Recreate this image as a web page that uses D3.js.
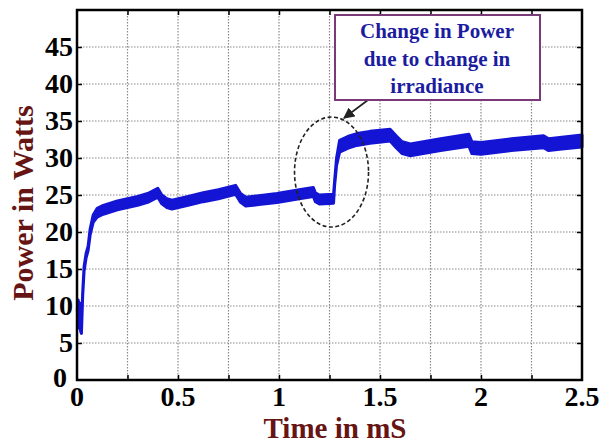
<!DOCTYPE html>
<html>
<head>
<meta charset="utf-8">
<script src="https://cdn.jsdelivr.net/npm/d3@7"></script>
<style>
  body { margin: 0; background: #fff; }
  svg text { font-family: "Liberation Serif", "Times New Roman", serif; font-weight: bold; }
</style>
</head>
<body>
<div id="chart"></div>
<script>
// power envelope (ripple band), time in mS
var time = [0.002,0.006,0.010,0.014,0.018,0.022,0.028,0.035,0.045,0.055,0.065,0.080,0.100,0.130,
            0.200,0.250,0.300,0.350,0.400,0.420,0.445,0.470,0.550,0.625,0.700,0.785,0.810,0.835,
            0.900,0.990,1.100,1.170,1.180,1.200,1.270,1.275,1.285,1.300,1.340,1.385,1.450,1.550,
            1.580,1.610,1.650,1.800,1.940,1.955,2.000,2.150,2.310,2.335,2.400,2.500]
var powerLow = [9.3,10.4,7.0,10.0,6.6,6.3,11.3,14.7,16.5,17.5,19.6,21.3,22.0,22.4,
                23.0,23.3,23.6,24.0,24.7,23.8,23.3,23.1,23.6,24.1,24.5,25.1,24.0,23.5,
                23.7,24.0,24.5,24.8,24.1,23.8,23.9,26.2,29.0,30.8,31.3,31.7,32.0,32.3,
                31.4,30.6,30.3,31.0,31.6,30.6,30.5,31.0,31.4,31.0,31.2,31.5]
var powerHigh = [9.7,10.8,7.4,10.4,7.0,6.7,11.7,15.3,17.1,18.1,20.4,22.3,23.2,23.6,
                 24.2,24.5,24.8,25.2,25.9,25.0,24.5,24.3,24.8,25.3,25.7,26.3,25.2,24.7,
                 24.9,25.2,25.7,26.0,25.3,25.0,25.1,26.8,30.0,32.4,32.9,33.3,33.6,33.9,
                 33.0,32.2,31.9,32.6,33.2,32.2,32.1,32.6,33.0,32.6,32.8,33.1]

// tick labels
var xTickLabels = [0, 0.5, 1, 1.5, 2, 2.5]
var yTickLabels = [0, 5, 10, 15, 20, 25, 30, 35, 40, 45]
var xGrid = [0.25, 0.5, 0.75, 1, 1.25, 1.5, 1.75, 2, 2.25]
var yGrid = [5, 10, 15, 20, 25, 30, 35, 40, 45]

// annotation
var noteLines = ["Change in Power", "due to change in", "irradiance"]
var noteCenter = { t: 1.26, p: 28.1 }

var width = 601, height = 445
var plot = { left: 77, right: 582, top: 10, bottom: 380 }

let svg = d3.select("#chart")
    .append("svg")
    .attr("width", width)
    .attr("height", height)

var x = d3.scaleLinear()
    .domain([0, 2.5])
    .range([plot.left, plot.right])
var y = d3.scaleLinear()
    .domain([0, 50])
    .range([plot.bottom, plot.top])

// dotted grid
svg.append("g")
    .selectAll("line")
    .data(xGrid)
    .enter().append("line")
        .attr("x1", d => x(d)).attr("x2", d => x(d))
        .attr("y1", plot.top).attr("y2", plot.bottom)
        .style("stroke", "#8a8a8a")
        .style("stroke-width", 1.2)
        .style("stroke-dasharray", "1.5,1.5")
svg.append("g")
    .selectAll("line")
    .data(yGrid)
    .enter().append("line")
        .attr("x1", plot.left).attr("x2", plot.right)
        .attr("y1", d => y(d)).attr("y2", d => y(d))
        .style("stroke", "#8a8a8a")
        .style("stroke-width", 1.2)
        .style("stroke-dasharray", "1.5,1.5")

// inward tick marks on all four sides
svg.append("g")
    .attr("transform", `translate(0,${plot.bottom})`)
    .call(d3.axisTop(x).tickValues(xGrid).tickSize(5).tickFormat(""))
svg.append("g")
    .attr("transform", `translate(0,${plot.top})`)
    .call(d3.axisBottom(x).tickValues(xGrid).tickSize(5).tickFormat(""))
svg.append("g")
    .attr("transform", `translate(${plot.left},0)`)
    .call(d3.axisRight(y).tickValues(yGrid).tickSize(5).tickFormat(""))
svg.append("g")
    .attr("transform", `translate(${plot.right},0)`)
    .call(d3.axisLeft(y).tickValues(yGrid).tickSize(5).tickFormat(""))
svg.selectAll(".domain").remove()
svg.selectAll(".tick line").style("stroke", "#000").style("stroke-width", 1.5)

// power band
var band = time.map((t, i) => ({ t: t, lo: powerLow[i], hi: powerHigh[i] }))
svg.append("path")
    .datum(band)
    .attr("d", d3.area()
        .x(d => x(d.t))
        .y0(d => y(d.lo))
        .y1(d => y(d.hi)))
    .style("fill", "#1414d4")
    .style("stroke", "#1414d4")
    .style("stroke-width", 3)
    .style("stroke-linejoin", "round")

// frame
svg.append("rect")
    .attr("x", plot.left)
    .attr("y", plot.top)
    .attr("width", plot.right - plot.left)
    .attr("height", plot.bottom - plot.top)
    .style("fill", "none")
    .style("stroke", "#000")
    .style("stroke-width", 2.5)

// tick labels (the two zeros share the corner, so the y one sits a bit left)
svg.append("g")
    .selectAll("text")
    .data(xTickLabels)
    .enter().append("text")
        .attr("x", d => x(d))
        .attr("y", plot.bottom + 26)
        .attr("text-anchor", "middle")
        .style("font-size", "28px")
        .text(d => d)
svg.append("g")
    .selectAll("text")
    .data(yTickLabels)
    .enter().append("text")
        .attr("x", d => d == 0 ? plot.left - 10 : plot.left - 4)
        .attr("y", d => d == 0 ? y(d) + 7 : y(d) + 9)
        .attr("text-anchor", "end")
        .style("font-size", "28px")
        .text(d => d)

// axis titles
svg.append("text")
    .attr("x", 335)
    .attr("y", 438)
    .attr("text-anchor", "middle")
    .style("font-size", "29px")
    .style("fill", "#661414")
    .text("Time in mS")
svg.append("text")
    .attr("transform", `translate(33,203) rotate(-90)`)
    .attr("text-anchor", "middle")
    .style("font-size", "30px")
    .style("fill", "#661414")
    .text("Power in Watts")

// dashed ellipse round the step
svg.append("ellipse")
    .attr("cx", x(noteCenter.t))
    .attr("cy", y(noteCenter.p))
    .attr("rx", 37)
    .attr("ry", 55)
    .style("fill", "none")
    .style("stroke", "#222")
    .style("stroke-width", 1.6)
    .style("stroke-dasharray", "4,2.5")

// arrow from box to ellipse
svg.append("defs").append("marker")
    .attr("id", "head")
    .attr("viewBox", "0 0 10 10")
    .attr("refX", 9).attr("refY", 5)
    .attr("markerWidth", 7).attr("markerHeight", 7)
    .attr("orient", "auto")
    .append("path")
        .attr("d", "M0,0 L10,5 L0,10 z")
        .style("fill", "#222")
svg.append("line")
    .attr("x1", 368).attr("y1", 100)
    .attr("x2", 344).attr("y2", 118)
    .style("stroke", "#222")
    .style("stroke-width", 1.6)
    .attr("marker-end", "url(#head)")

// annotation box
svg.append("rect")
    .attr("x", 335)
    .attr("y", 15)
    .attr("width", 205)
    .attr("height", 85)
    .style("fill", "#fff")
    .style("stroke", "#7a3a7a")
    .style("stroke-width", 2)
svg.append("g")
    .selectAll("text")
    .data(noteLines)
    .enter().append("text")
        .attr("x", 437)
        .attr("y", (d, i) => 38 + i * 27.5)
        .attr("text-anchor", "middle")
        .style("font-size", "21px")
        .style("fill", "#1c1ca0")
        .text(d => d)
</script>
</body>
</html>
